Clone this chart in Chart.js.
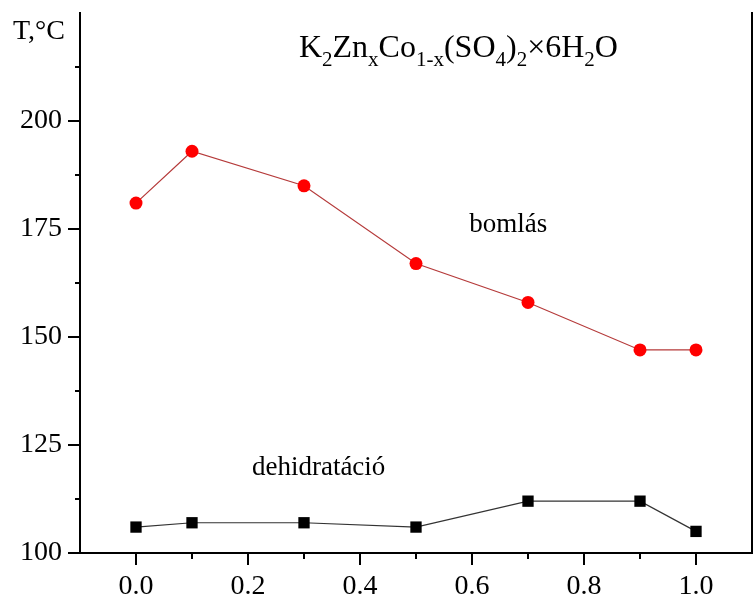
<!DOCTYPE html>
<html>
<head>
<meta charset="utf-8">
<script src="https://cdn.jsdelivr.net/npm/chart.js@4/dist/chart.umd.min.js"></script>
<style>
    body { margin: 0; background: #fff; }
    #wrap { width: 755px; height: 608px; position: relative; }
</style>
</head>
<body>
<div id="wrap"><canvas id="chart"></canvas></div>
<script>
const SERIF = '"Liberation Serif", "Times New Roman", serif';

// composition x in K2ZnxCo1-x(SO4)2 x 6H2O
const xValues = [0.0, 0.1, 0.3, 0.5, 0.7, 0.9, 1.0];
// decomposition temperature, °C
const bomlas = [181, 193, 185, 167, 158, 147, 147];
// dehydration temperature, °C
const dehidratacio = [106, 107, 107, 106, 112, 112, 105];

const xLabels = ['0.0', '0.2', '0.4', '0.6', '0.8', '1.0'];
const yLabels = ['100', '125', '150', '175', '200'];

// formula pieces: [text, isSubscript]
const formula = [
    ['K', 0], ['2', 1], ['Zn', 0], ['x', 1], ['Co', 0], ['1-x', 1],
    ['(SO', 0], ['4', 1], [')', 0], ['2', 1], ['\u00d76H', 0], ['2', 1], ['O', 0],
];

const toPoints = (ys) => ys.map((y, i) => ({ x: xValues[i], y }));

function fmtX(v) {
    const s = (Math.round(v * 10) / 10).toFixed(1);
    return xLabels.includes(s) ? s : '';
}

function fmtY(v) {
    const s = String(Math.round(v * 10) / 10);
    return yLabels.includes(s) ? s : '';
}

function noPad(scale) {
    scale.paddingLeft = 0;
    scale.paddingRight = 0;
    scale.paddingTop = 0;
    scale.paddingBottom = 0;
}

// major/minor tick marks pointing outward
const tickMarks = {
    id: 'tickMarks',
    afterDraw(chart) {
        const { ctx, scales: { x, y } } = chart;
        ctx.save();
        ctx.strokeStyle = '#000';
        ctx.lineWidth = 2;
        ctx.beginPath();
        x.ticks.forEach((t) => {
            const v = Math.round(t.value * 10) / 10;
            if (v < 0 || v > 1) return;
            const px = Math.round(x.getPixelForValue(v));
            const len = fmtX(v) ? 12 : 6;
            ctx.moveTo(px, y.bottom);
            ctx.lineTo(px, y.bottom + len);
        });
        y.ticks.forEach((t) => {
            if (t.value >= 225) return;
            const py = Math.round(y.getPixelForValue(t.value));
            const len = fmtY(t.value) ? 12 : 5;
            ctx.moveTo(x.left, py);
            ctx.lineTo(x.left - len, py);
        });
        ctx.stroke();
        ctx.restore();
    },
};

// formula, axis unit and series names
const annotations = {
    id: 'annotations',
    afterDraw(chart) {
        const { ctx, scales: { x, y } } = chart;
        ctx.save();
        ctx.fillStyle = '#000';
        ctx.textBaseline = 'alphabetic';
        ctx.textAlign = 'left';

        ctx.font = `28px ${SERIF}`;
        ctx.fillText('T,\u00b0C', 13, 39);
        ctx.font = `27px ${SERIF}`;
        ctx.fillText('bomlás', x.getPixelForValue(0.595), y.getPixelForValue(174.3));
        ctx.fillText('dehidratáció', x.getPixelForValue(0.207), y.getPixelForValue(118));

        let cx = x.getPixelForValue(0.291);
        const base = y.getPixelForValue(214.8);
        formula.forEach(([txt, sub]) => {
            ctx.font = sub ? `21px ${SERIF}` : `32px ${SERIF}`;
            ctx.fillText(txt, cx, sub ? base + 9 : base);
            cx += ctx.measureText(txt).width;
        });
        ctx.restore();
    },
};

new Chart(document.getElementById('chart'), {
    type: 'line',
    data: {
        datasets: [
            {
                label: 'bomlás',
                data: toPoints(bomlas),
                borderColor: '#b53a3a',
                borderWidth: 1.2,
                pointStyle: 'circle',
                pointRadius: 6.5,
                pointBackgroundColor: '#ff0000',
                pointBorderWidth: 0,
                clip: false,
            },
            {
                label: 'dehidratáció',
                data: toPoints(dehidratacio),
                borderColor: '#333333',
                borderWidth: 1.2,
                pointStyle: 'rect',
                pointRadius: 8,
                pointBackgroundColor: '#000000',
                pointBorderWidth: 0,
                clip: false,
            },
        ],
    },
    options: {
        animation: false,
        responsive: true,
        maintainAspectRatio: false,
        layout: { autoPadding: false, padding: { top: 13, right: 0, left: 0, bottom: 0 } },
        plugins: {
            legend: { display: false },
            tooltip: { enabled: false },
        },
        scales: {
            x: {
                type: 'linear',
                min: -0.1,
                max: 1.1,
                grid: { display: false, drawTicks: false },
                border: { display: true, color: '#000', width: 2 },
                ticks: {
                    stepSize: 0.1,
                    autoSkip: false,
                    maxRotation: 0,
                    padding: 17,
                    color: '#000',
                    font: { family: SERIF, size: 28 },
                    callback: (v) => fmtX(v),
                },
                afterFit: (scale) => { scale.height = 55; noPad(scale); },
            },
            y: {
                min: 100,
                max: 225,
                grid: { display: false, drawTicks: false },
                border: { display: true, color: '#000', width: 2 },
                ticks: {
                    stepSize: 12.5,
                    autoSkip: false,
                    padding: 18,
                    color: '#000',
                    font: { family: SERIF, size: 28 },
                    callback: (v) => fmtY(v),
                },
                afterFit: (scale) => { scale.width = 80; noPad(scale); },
            },
            y2: {
                position: 'right',
                min: 100,
                max: 225,
                grid: { display: false, drawTicks: false },
                border: { display: true, color: '#000', width: 2 },
                ticks: { display: false },
                afterFit: (scale) => { scale.width = 3; noPad(scale); },
            },
        },
    },
    plugins: [tickMarks, annotations],
});
</script>
</body>
</html>
